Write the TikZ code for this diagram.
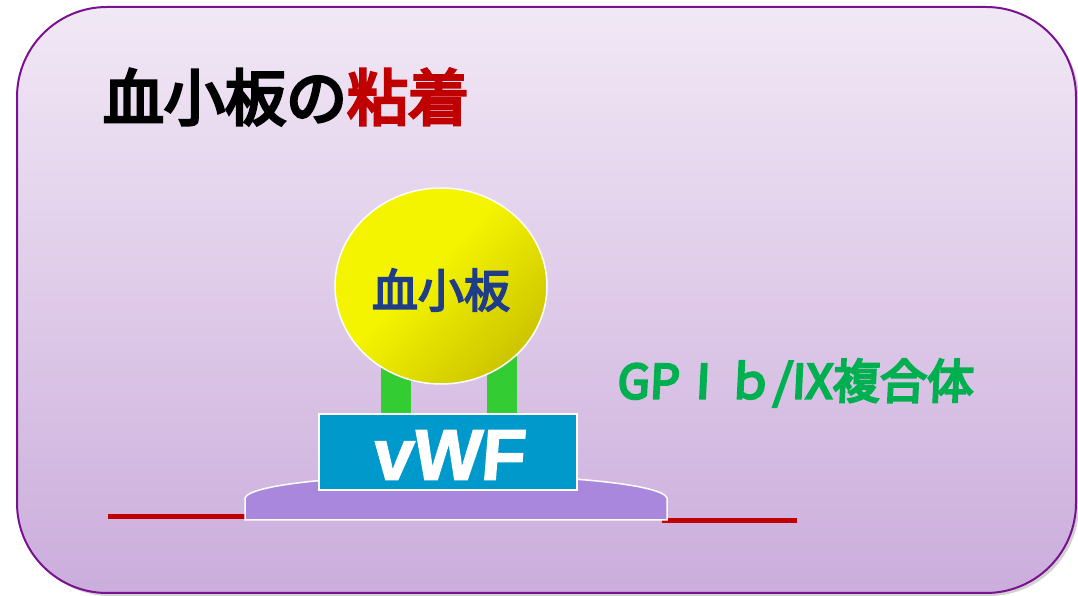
\documentclass[tikz,border=0pt]{standalone}
\usepackage{fontspec}
\newfontfamily\cjktitle[FakeBold=5]{Noto Sans CJK JP}
\newfontfamily\cjklabel[FakeBold=4]{Noto Sans CJK JP}
\newfontfamily\cjkgp[FakeBold=5,FakeSlant=0.05]{Noto Sans CJK JP}
\newfontfamily\vwffont[FakeSlant=0.08,FakeBold=2]{Liberation Sans}

\definecolor{bgtop}{HTML}{F1E8F5}
\definecolor{bgbot}{HTML}{CBADDC}
\definecolor{framepurple}{HTML}{7A1190}
\definecolor{titlered}{HTML}{C00000}
\definecolor{plateletblue}{HTML}{1F3C88}
\definecolor{plateletyellow}{HTML}{F4F400}
\definecolor{plateletolive}{HTML}{AC9E00}
\definecolor{receptorgreen}{HTML}{33CC33}
\definecolor{vwfblue}{HTML}{0099CC}
\definecolor{matrixpurple}{HTML}{A987DD}
\definecolor{gpgreen}{HTML}{00B050}
\definecolor{vesselred}{HTML}{C00000}

% yellow body that darkens towards one edge
\pgfdeclarehorizontalshading{plateletshade}{100bp}{%
  color(0bp)=(plateletyellow); color(45bp)=(plateletyellow);
  color(100bp)=(plateletolive)}

\tikzset{
  receptor/.style={fill=receptorgreen, draw=none},
  whiteedge/.style={draw=white, line width=1.5pt},
  vessel/.style={draw=vesselred, line width=5pt},
}

\begin{document}
\begin{tikzpicture}[x=1pt,y=1pt]
  \useasboundingbox (0,0) rectangle (1078,596);

  % panel with soft shadow
  \fill[black, opacity=0.18, rounded corners=90] (20,0) rectangle (1079,586);
  \draw[framepurple, line width=2pt, top color=bgtop, bottom color=bgbot,
        rounded corners=90] (17,3) rectangle (1076,589);

  % title
  \node[anchor=center] (title) at (286,499)
    {\cjktitle\fontsize{61}{61}\selectfont 血小板の\textcolor{titlered}{粘着}};

  % vessel wall
  \coordinate (wallL) at (108,79);
  \coordinate (wallR) at (797,75);
  \draw[vessel] (wallL) -- (245,79);
  \draw[vessel] (662,75) -- (wallR);

  % subendothelial matrix
  \path[fill=matrixpurple, whiteedge]
    (245,76) -- (245,98) .. controls (250,112) and (350,121) .. (456,121)
    .. controls (562,121) and (662,112) .. (667,98) -- (667,76) -- cycle;

  % GPIb/IX receptors
  \fill[receptor] (381,181) rectangle (411,240);
  \fill[receptor] (487,181) rectangle (517,240);

  % vWF
  \node[whiteedge, fill=vwfblue, minimum width=258pt, minimum height=76pt,
        inner sep=0pt] (vwf) at (448,144) {};
  \node[text=white] (vwflabel) at (448,141)
    {\vwffont\bfseries\fontsize{72}{72}\selectfont vWF};

  % platelet
  \shade[shading=plateletshade, shading angle=-45]
    (441,310) ellipse [x radius=106, y radius=98];
  \draw[white, line width=1.5pt] (441,310) ellipse [x radius=106, y radius=98];
  \node[text=plateletblue] (platelet) at (441,306)
    {\cjklabel\fontsize{46}{46}\selectfont 血小板};

  % receptor label
  \node[text=gpgreen] (gplabel) at (795,213)
    {\cjkgp\fontsize{47}{47}\selectfont GPⅠｂ/IX複合体};
\end{tikzpicture}
\end{document}
